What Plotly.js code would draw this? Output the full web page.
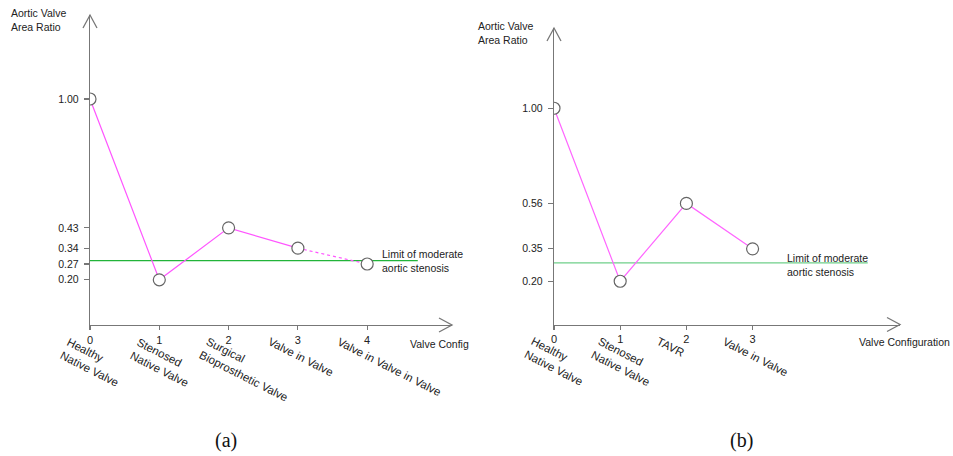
<!DOCTYPE html>
<html>
<head>
<meta charset="utf-8">
<script src="https://cdn.plot.ly/plotly-3.0.1.min.js"></script>
<style>html,body{margin:0;padding:0;background:#fff;}#chart{width:953px;height:456px;}</style>
</head>
<body>
<div id="chart"></div>
<script>
// ---------- data ----------
var configA = [0, 1, 2, 3, 4];
var labelsA = ["Healthy<br>Native Valve", "Stenosed<br>Native Valve", "Surgical<br>Bioprosthetic Valve", "Valve in Valve", "Valve in Valve in Valve"];
var ratioA = [1.00, 0.20, 0.43, 0.34, 0.27];
var yTicksA = [0.20, 0.27, 0.34, 0.43, 1.00];
var limitA = 0.285;

var configB = [0, 1, 2, 3];
var labelsB = ["Healthy<br>Native Valve", "Stenosed<br>Native Valve", "TAVR", "Valve in Valve"];
var ratioB = [1.00, 0.20, 0.56, 0.35];
var yTicksB = [0.20, 0.35, 0.56, 1.00];
var limitB = 0.285;

var yTitle = "Aortic Valve<br>Area Ratio";
var xTitleA = "Valve Config";
var xTitleB = "Valve Configuration";
var limitText = "Limit of moderate<br>aortic stenosis";
var captions = ["(a)", "(b)"];

// ---------- helpers ----------
var W = 953, H = 456;
var FONT = "Liberation Sans, Arial, sans-serif";
var AX = "#777";
function px(x){ return x / W; }
function py(y){ return 1 - y / H; }

var lineA = "#ff55ff", lineB = "#ff66ff";
var markerStyle = {symbol: "circle", size: 12, color: "#ffffff", line: {color: "#666", width: 1.2}};

var traces = [
  // panel a: solid segments (0..3), dotted segment (3..4), markers
  {x: configA.slice(0, 4), y: ratioA.slice(0, 4), xaxis: "x", yaxis: "y", mode: "lines",
   line: {color: lineA, width: 1.2}, hoverinfo: "skip"},
  {x: configA.slice(3), y: ratioA.slice(3), xaxis: "x", yaxis: "y", mode: "lines",
   line: {color: lineA, width: 1.2, dash: "dot"}, hoverinfo: "skip"},
  {x: configA, y: ratioA, xaxis: "x", yaxis: "y", mode: "markers", marker: markerStyle},
  // panel b
  {x: configB, y: ratioB, xaxis: "x2", yaxis: "y2", mode: "lines",
   line: {color: lineB, width: 1.2}, hoverinfo: "skip"},
  {x: configB, y: ratioB, xaxis: "x2", yaxis: "y2", mode: "markers", marker: markerStyle}
];

function xAxis(domain, range, vals, anchor){
  return {domain: domain, range: range, anchor: anchor, showline: true, linecolor: AX, linewidth: 1.3,
    showgrid: false, zeroline: false, ticks: "outside", ticklen: 4, tickcolor: AX, tickwidth: 1.2,
    tickvals: vals, ticktext: vals.map(String), tickfont: {family: FONT, size: 11, color: "#222"},
    fixedrange: true};
}
function yAxis(domain, range, vals, anchor){
  return {domain: domain, range: range, anchor: anchor, showline: true, linecolor: AX, linewidth: 1.3,
    showgrid: false, zeroline: false, ticks: "outside", ticklen: 5, tickcolor: AX, tickwidth: 1.2,
    tickvals: vals, ticktext: vals.map(function(v){return v.toFixed(2);}),
    tickfont: {family: FONT, size: 10.5, color: "#222"}, ticklabelstandoff: 3, fixedrange: true};
}

var annotations = [];
function catLabels(vals, labels, xr, yr){
  vals.forEach(function(v, i){
    annotations.push({xref: xr, yref: yr, x: v, y: 0, text: labels[i], showarrow: false,
      xanchor: "left", yanchor: "top", align: "left", textangle: 27, xshift: -34, yshift: -8,
      font: {family: FONT, size: 11.5, color: "#222"}});
  });
}
catLabels(configA, labelsA, "x", "y");
catLabels(configB, labelsB, "x2", "y2");

var txt = {family: FONT, size: 10.5, color: "#222"};
annotations.push(
  {xref: "paper", yref: "paper", x: px(68), y: py(20), text: yTitle, showarrow: false, xanchor: "right", yanchor: "middle", align: "left", font: txt},
  {xref: "paper", yref: "paper", x: px(535), y: py(33.5), text: yTitle, showarrow: false, xanchor: "right", yanchor: "middle", align: "left", font: txt},
  {xref: "paper", yref: "paper", x: px(408), y: py(344), text: xTitleA, showarrow: false, xanchor: "left", yanchor: "middle", font: txt},
  {xref: "paper", yref: "paper", x: px(857), y: py(342), text: xTitleB, showarrow: false, xanchor: "left", yanchor: "middle", font: txt},
  {xref: "x", yref: "y", x: 4.18, y: limitA, text: limitText, showarrow: false, xanchor: "left", yanchor: "middle", align: "left", font: txt},
  {xref: "x2", yref: "y2", x: 3.49, y: limitB, text: limitText, showarrow: false, xanchor: "left", yanchor: "middle", align: "left", yshift: -2, font: txt},
  {xref: "paper", yref: "paper", x: px(226), y: py(440), text: captions[0], showarrow: false, xanchor: "center", yanchor: "middle", font: {family: "Liberation Serif, Times New Roman, serif", size: 20, color: "#111"}},
  {xref: "paper", yref: "paper", x: px(741), y: py(440), text: captions[1], showarrow: false, xanchor: "center", yanchor: "middle", font: {family: "Liberation Serif, Times New Roman, serif", size: 20, color: "#111"}}
);

function arrows(xr, yr){
  return [
    {type: "path", xref: xr + " domain", yref: yr + " domain", xsizemode: "pixel", ysizemode: "pixel",
     xanchor: 1, yanchor: 0, path: "M-13,7 L0,0 L-13,-7", line: {color: AX, width: 1.3}},
    {type: "path", xref: xr + " domain", yref: yr + " domain", xsizemode: "pixel", ysizemode: "pixel",
     xanchor: 0, yanchor: 1, path: "M-7,-13 L0,0 L7,-13", line: {color: AX, width: 1.3}}
  ];
}
var shapes = [].concat(arrows("x", "y"), arrows("x2", "y2"));
shapes.push(
  {type: "line", xref: "x", yref: "y", x0: 0, x1: 4.73, y0: limitA, y1: limitA, line: {color: "#22b43a", width: 1.3}, layer: "below"},
  {type: "line", xref: "x2", yref: "y2", x0: 0, x1: 4.74, y0: limitB, y1: limitB, line: {color: "#6fcf8a", width: 1.2}, layer: "below"}
);

var layout = {
  width: W, height: H, margin: {l: 0, r: 0, t: 0, b: 0},
  paper_bgcolor: "#fff", plot_bgcolor: "rgba(0,0,0,0)", showlegend: false,
  font: {family: FONT},
  xaxis: xAxis([px(90), px(452)], [0, 5.224], configA, "y"),
  yaxis: yAxis([py(325), py(15)], [0, 1.3717], yTicksA, "x"),
  xaxis2: xAxis([px(554), px(900)], [0, 5.227], configB, "y2"),
  yaxis2: yAxis([py(324.5), py(28)], [0, 1.371], yTicksB, "x2"),
  annotations: annotations, shapes: shapes
};

Plotly.newPlot("chart", traces, layout, {displayModeBar: false, staticPlot: true});
</script>
</body>
</html>
